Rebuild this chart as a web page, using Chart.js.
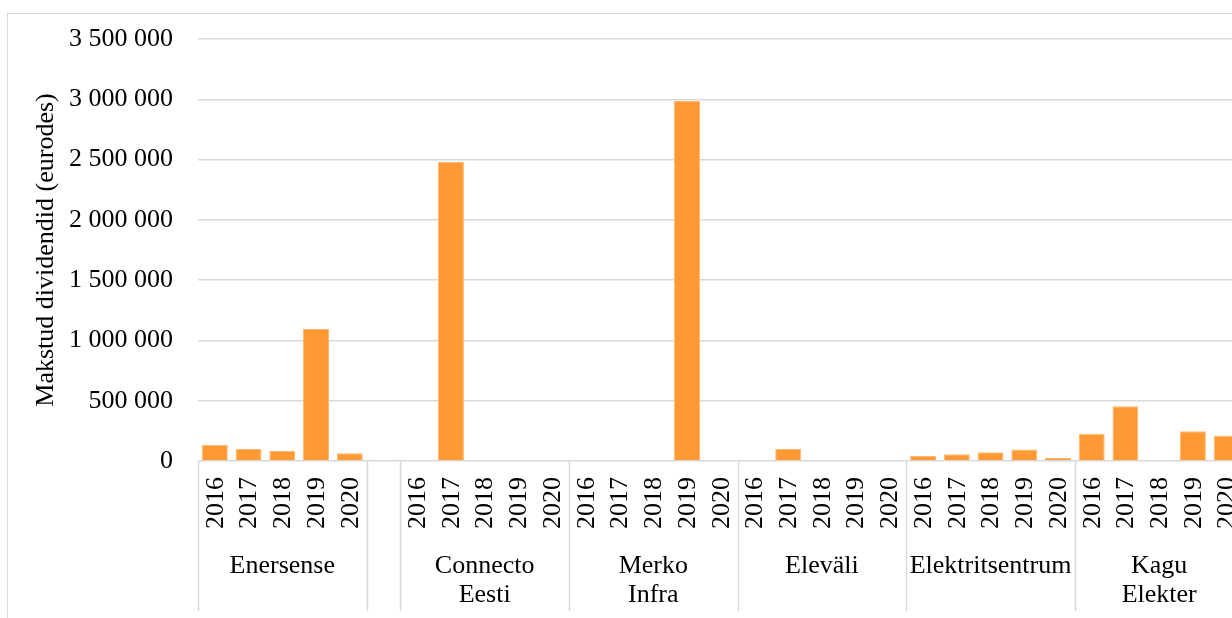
<!DOCTYPE html>
<html>
<head>
<meta charset="utf-8">
<script src="https://cdn.jsdelivr.net/npm/chart.js@4.4.1/dist/chart.umd.min.js"></script>
<style>
    html, body { margin: 0; padding: 0; background: #fff; overflow: hidden; }
    body { width: 1232px; height: 618px; position: relative; }
    .chart-box {
        position: absolute; left: 7px; top: 13px;
        width: 1300px; height: 700px;
        border: 1px solid #d9d9d9;
    }
    .chart-box canvas { position: absolute; left: 0; top: 0; }
</style>
</head>
<body>
<div class="chart-box">
    <canvas id="dividendChart" width="1250" height="620" style="width:1250px;height:620px"></canvas>
</div>
<script>
// Andmed (loetud jooniselt)
const years = ['2016', '2017', '2018', '2019', '2020'];
const companies = ['Enersense', '', 'Connecto\nEesti', 'Merko\nInfra', 'Eleväli', 'Elektritsentrum', 'Kagu\nElekter'];
const enersense = [132000, 100000, 83000, 1095000, 64000];
const connectoEesti = [0, 2480000, 0, 0, 0];
const merkoInfra = [0, 0, 0, 2985000, 0];
const elevali = [0, 100000, 0, 0, 0];
const elektritsentrum = [42000, 55000, 72000, 95000, 25000];
const kaguElekter = [227000, 454000, 0, 246000, 208000];
const yTicks = [0, 500000, 1000000, 1500000, 2000000, 2500000, 3000000, 3500000];
const yTitle = 'Makstud dividendid (eurodes)';

const FONT = '"Liberation Serif", "Times New Roman", serif';
const GRID = '#d9d9d9';

// Kategooriad: iga firma 5 aastat, Enersense järel üks tühi koht
const seriesByCompany = [enersense, null, connectoEesti, merkoInfra, elevali, elektritsentrum, kaguElekter];
const labels = [];
const values = [];
const groups = []; // {name, start, count, years}
seriesByCompany.forEach((vals, gi) => {
    const start = labels.length;
    if (vals === null) {
        labels.push('gap');
        values.push(null);
        groups.push({ name: '', start: start, count: 1, years: false });
        return;
    }
    years.forEach((y, i) => {
        labels.push(companies[gi] + ' ' + y);
        values.push(vals[i]);
    });
    groups.push({ name: companies[gi], start: start, count: years.length, years: true });
});

function formatNumber(v) {
    return String(v).replace(/\B(?=(\d{3})+(?!\d))/g, ' ');
}

// Joonistab aastad, firmade nimed ja eraldusjooned x-telje alla
const categoryAxisPlugin = {
    id: 'categoryAxis',
    afterDraw(chart) {
        const ctx = chart.ctx;
        const xs = chart.scales.x;
        const area = chart.chartArea;
        const slot = (xs.getPixelForValue(1) - xs.getPixelForValue(0));
        const bottomLine = area.bottom + 150;

        ctx.save();
        ctx.strokeStyle = GRID;
        ctx.lineWidth = 1.5;
        ctx.fillStyle = '#000';

        // eraldusjooned
        const edges = [xs.getPixelForValue(0) - slot / 2];
        groups.forEach(g => edges.push(xs.getPixelForValue(g.start + g.count - 1) + slot / 2));
        edges.forEach(x => {
            const px = Math.round(x) + 0.5;
            ctx.beginPath();
            ctx.moveTo(px, area.bottom);
            ctx.lineTo(px, bottomLine);
            ctx.stroke();
        });

        // aastad
        ctx.font = '26px ' + FONT;
        ctx.textAlign = 'right';
        ctx.textBaseline = 'middle';
        groups.forEach(g => {
            if (!g.years) return;
            years.forEach((y, i) => {
                const x = xs.getPixelForValue(g.start + i);
                ctx.save();
                ctx.translate(x + 1, area.bottom + 16);
                ctx.rotate(-Math.PI / 2);
                ctx.fillText(y, 0, 0);
                ctx.restore();
            });
        });

        // firmade nimed
        ctx.textAlign = 'center';
        ctx.textBaseline = 'alphabetic';
        groups.forEach(g => {
            if (!g.name) return;
            const left = xs.getPixelForValue(g.start) - slot / 2;
            const right = xs.getPixelForValue(g.start + g.count - 1) + slot / 2;
            const cx = (left + right) / 2;
            g.name.split('\n').forEach((line, li) => {
                ctx.fillText(line, cx, area.bottom + 112 + li * 29);
            });
        });

        // y-telje pealkiri
        ctx.save();
        ctx.translate(38, (area.top + area.bottom) / 2);
        ctx.rotate(-Math.PI / 2);
        ctx.textAlign = 'center';
        ctx.textBaseline = 'middle';
        ctx.fillText(yTitle, 0, 0);
        ctx.restore();

        ctx.restore();
    }
};

new Chart(document.getElementById('dividendChart'), {
    type: 'bar',
    data: {
        labels: labels,
        datasets: [{
            data: values,
            backgroundColor: '#ff9933',
            borderColor: '#ffb870',
            borderWidth: 1,
            barPercentage: 0.77,
            categoryPercentage: 1
        }]
    },
    options: {
        responsive: false,
        animation: false,
        layout: { padding: { left: 0, top: 25, right: 14.5, bottom: 0 } },
        plugins: {
            legend: { display: false },
            tooltip: { enabled: false }
        },
        scales: {
            x: {
                grid: { display: false },
                border: { display: false },
                ticks: { display: false },
                afterFit: scale => {
                    scale.height = 173;
                    scale.paddingLeft = 0;
                    scale.paddingRight = 0;
                }
            },
            y: {
                min: 0,
                max: 3500000,
                afterBuildTicks: scale => { scale.ticks = yTicks.map(v => ({ value: v })); },
                grid: { color: GRID, lineWidth: 1.5, drawTicks: false },
                border: { display: false },
                ticks: {
                    padding: 25,
                    color: '#000',
                    font: { family: FONT, size: 26 },
                    callback: v => formatNumber(v)
                },
                afterFit: scale => {
                    scale.width = 190;
                    scale.paddingTop = 0;
                    scale.paddingBottom = 0;
                }
            }
        }
    },
    plugins: [categoryAxisPlugin]
});
</script>
</body>
</html>
